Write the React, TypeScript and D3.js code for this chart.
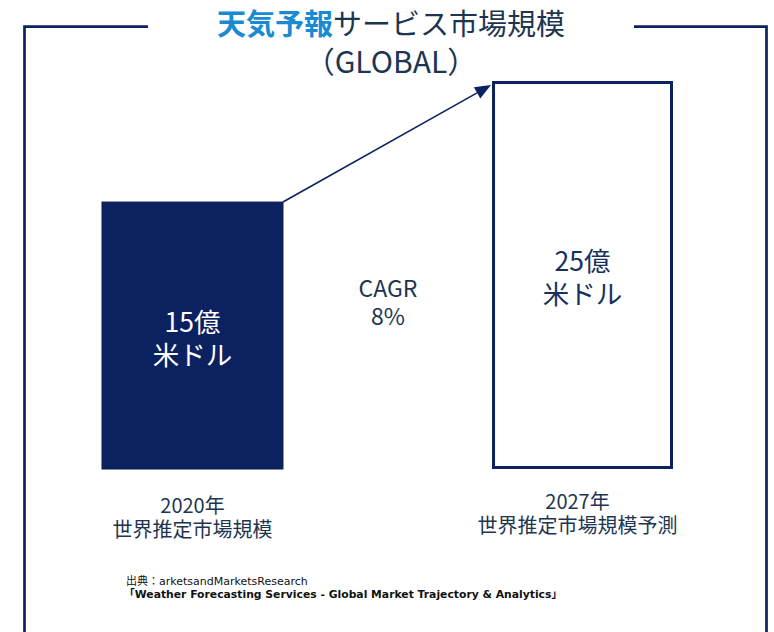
import React from "react";
import * as d3 from "d3";

const years = ["2020年", "2027年"];
const subLabels = ["世界推定市場規模", "世界推定市場規模予測"];
const values = [15, 25];
const valueLabels = ["15億", "25億"];
const unitLabel = "米ドル";
const cagrLabel = "CAGR";
const cagrValue = "8%";
const titleBlue = "天気予報";
const titleRest = "サービス市場規模";
const titleSub = "（GLOBAL）";
const sourceLine1 = "出典：arketsandMarketsResearch";
const sourceLine2 = "「Weather Forecasting Services - Global Market Trajectory & Analytics」";

const W = 774;
const H = 632;
const NAVY = "#0c2160";
const TEXT = "#1e3550";
const BLUE = "#1a8ad2";
const JP = "'Noto Sans CJK JP', 'Noto Sans', sans-serif";

export default function App() {
  const x = d3.scaleBand<string>().domain(years).range([102, 673]).paddingInner(0.536).paddingOuter(0);
  const y = d3.scaleLinear().domain([-7.05, 25]).range([469, 81]);
  const bw = x.bandwidth();

  const bars = years.map((yr, i) => {
    const x0 = x(yr) as number;
    const top = y(values[i]);
    const bottom = y(-7.05);
    return { yr, i, x0, top, bottom, cx: x0 + bw / 2, cy: (top + bottom) / 2 };
  });

  const b0 = bars[0];
  const b1 = bars[1];
  const arrowStart: [number, number] = [b0.x0 + bw, b0.top];
  const arrowTip: [number, number] = [b1.x0 - 1, b1.top + 4];
  const ang = Math.atan2(arrowTip[1] - arrowStart[1], arrowTip[0] - arrowStart[0]);
  const hl = 16;
  const hw = 6.5;
  const baseX = arrowTip[0] - hl * Math.cos(ang);
  const baseY = arrowTip[1] - hl * Math.sin(ang);
  const head = [
    arrowTip,
    [baseX + hw * Math.sin(ang), baseY - hw * Math.cos(ang)],
    [baseX - hw * Math.sin(ang), baseY + hw * Math.cos(ang)],
  ] as [number, number][];
  const line = d3.line();

  return (
    <svg width={W} height={H} style={{ position: "absolute", left: 0, top: 0, display: "block", background: "#fff" }}>
      {/* frame */}
      <path d={`M24.5,${H + 10} V26.7 H148`} fill="none" stroke={NAVY} strokeWidth={2.7} />
      <path d={`M634,26.7 H766.5 V${H + 10}`} fill="none" stroke={NAVY} strokeWidth={2.7} />

      {/* title */}
      <text x={391} y={35} textAnchor="middle" fontFamily={JP} fontSize={29} fill={TEXT}>
        <tspan fill={BLUE} fontWeight="bold">{titleBlue}</tspan>
        <tspan>{titleRest}</tspan>
      </text>
      <text x={391} y={73} textAnchor="middle" fontFamily={JP} fontSize={30} fill={TEXT}>
        {titleSub}
      </text>

      {/* bars */}
      <rect x={b0.x0} y={b0.top} width={bw} height={b0.bottom - b0.top} fill={NAVY} stroke="#0a1a4a" strokeWidth={1} />
      <rect x={b1.x0 + 1.5} y={b1.top + 1.5} width={bw - 3} height={b1.bottom - b1.top - 3} fill="#fff" stroke={NAVY} strokeWidth={3} />

      {/* arrow */}
      <path d={line([arrowStart, [baseX, baseY]]) || ""} stroke={NAVY} strokeWidth={1.6} fill="none" />
      <path d={(line(head) || "") + "Z"} fill={NAVY} />

      {/* value labels */}
      {bars.map((b) => (
        <text key={"v" + b.i} textAnchor="middle" fontFamily={JP} fontSize={26.5} fill={b.i === 0 ? "#ffffff" : "#17305c"}>
          <tspan x={b.cx} y={b.cy - 4}>{valueLabels[b.i]}</tspan>
          <tspan x={b.cx} y={b.cy + 29}>{unitLabel}</tspan>
        </text>
      ))}

      {/* CAGR */}
      <text textAnchor="middle" fontFamily={JP} fontSize={23} fill={TEXT}>
        <tspan x={388} y={297}>{cagrLabel}</tspan>
        <tspan x={388} y={325}>{cagrValue}</tspan>
      </text>

      {/* category labels */}
      {bars.map((b) => (
        <text key={"c" + b.i} textAnchor="middle" fontFamily={JP} fontSize={20} fill={TEXT}>
          <tspan x={b.cx - (b.i === 1 ? 5 : 0)} y={b.i === 0 ? 513 : 509}>{years[b.i]}</tspan>
          <tspan x={b.cx - (b.i === 1 ? 5 : 0)} y={b.i === 0 ? 537 : 533}>{subLabels[b.i]}</tspan>
        </text>
      ))}

      {/* source */}
      <text x={126} y={585} fontFamily="'DejaVu Sans', 'Noto Sans CJK JP', sans-serif" fontSize={11} fill="#111">
        {sourceLine1}
      </text>
      <text x={124} y={598} fontFamily="'DejaVu Sans', 'Noto Sans CJK JP', sans-serif" fontSize={10.8} fontWeight="bold" fill="#111">
        {sourceLine2}
      </text>
    </svg>
  );
}
